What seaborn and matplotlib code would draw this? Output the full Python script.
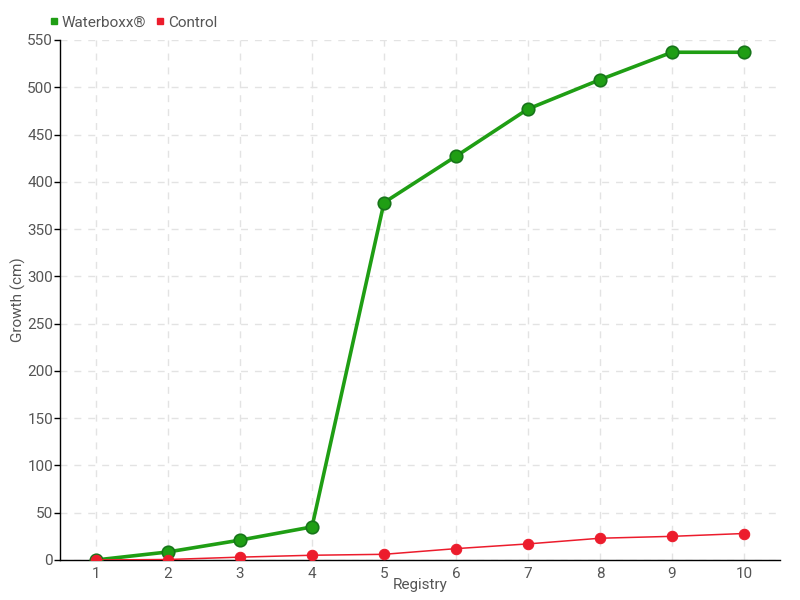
import matplotlib
matplotlib.use("Agg")
import matplotlib.pyplot as plt
import seaborn as sns
import pandas as pd
from matplotlib.lines import Line2D

registry = [1, 2, 3, 4, 5, 6, 7, 8, 9, 10]
waterboxx = [0, 8.5, 21, 35, 378, 427, 477, 508, 537, 537]
control = [0, 0.5, 3, 5, 6, 12, 17, 23, 25, 28]
yticks = list(range(0, 551, 50))

sns.set_theme(style="white")
plt.rcParams['font.family'] = ['Roboto', 'DejaVu Sans']

df = pd.DataFrame({"Registry": registry * 2,
                   "Growth": waterboxx + control,
                   "Series": ["Waterboxx®"] * len(registry) + ["Control"] * len(registry)})

fig = plt.figure(figsize=(8, 6), dpi=100)
ax = fig.add_axes([0.075, 0.0667, 0.9, 0.8667])

green = "#1f9e14"
red = "#ec1c2c"
txt = "#555555"

sns.lineplot(data=df[df.Series == "Waterboxx®"], x="Registry", y="Growth", ax=ax,
             color=green, linewidth=2.6, marker="o", markersize=9,
             markerfacecolor=green, markeredgecolor="#17751a", markeredgewidth=1.2, zorder=3)
sns.lineplot(data=df[df.Series == "Control"], x="Registry", y="Growth", ax=ax,
             color=red, linewidth=1.1, marker="o", markersize=7.5,
             markerfacecolor=red, markeredgecolor=red, zorder=4)

ax.set_xlim(0.5, 10.5)
ax.set_ylim(0, 550)
ax.set_xticks(registry)
ax.set_yticks(yticks)
ax.grid(True, linestyle=(0, (5, 5)), color="#e3e3e3", linewidth=1)
for s in ["top", "right"]:
    ax.spines[s].set_visible(False)
for s in ["left", "bottom"]:
    ax.spines[s].set_color("black")
    ax.spines[s].set_linewidth(1)
ax.tick_params(axis="y", left=True, length=4, width=1, color="black", labelsize=11, labelcolor=txt, pad=1)
ax.tick_params(axis="x", bottom=False, labelsize=11, labelcolor=txt, pad=-1)
ax.set_xlabel("Registry", fontsize=11, color=txt, labelpad=-2)
ax.set_ylabel("Growth (cm)", fontsize=11, color=txt, labelpad=1)

handles = [Line2D([], [], marker="s", linestyle="", color=green, markersize=5),
           Line2D([], [], marker="s", linestyle="", color=red, markersize=5)]
leg = fig.legend(handles, ["Waterboxx®", "Control"], loc="upper left", bbox_to_anchor=(0.043, 0.997),
                 ncol=2, frameon=False, fontsize=11, handletextpad=0.1, columnspacing=0.5,
                 handlelength=0.8)
for t in leg.get_texts():
    t.set_color(txt)

fig.savefig("out.png", dpi=100)
